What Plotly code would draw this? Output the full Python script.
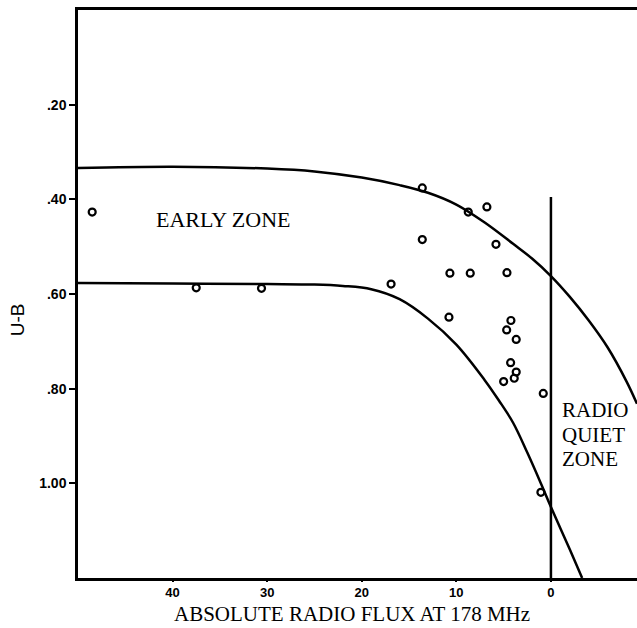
import plotly.graph_objects as go

# Observed objects: absolute radio flux at 178 MHz vs. U-B colour
flux = [48.5, 37.5, 30.6, 16.9, 13.6, 8.74, 6.77, 13.6, 5.81, 10.68, 8.53,
        4.65, 10.78, 4.23, 4.68, 3.67, 4.26, 3.67, 3.88, 5.0, 0.81, 1.06]
u_b = [0.427, 0.587, 0.588, 0.579, 0.376, 0.427, 0.416, 0.485, 0.495, 0.556,
       0.556, 0.555, 0.649, 0.656, 0.676, 0.696, 0.745, 0.765, 0.778, 0.785,
       0.81, 1.019]

# Upper boundary of the early zone
upper_flux = [50, 40, 30, 25, 20, 16, 13, 10, 7, 4, 2, 0, -2, -4, -6, -8, -9.1]
upper_ub = [0.334, 0.331, 0.335, 0.341, 0.354, 0.370, 0.386, 0.411, 0.449,
            0.494, 0.525, 0.562, 0.606, 0.656, 0.713, 0.785, 0.832]

# Lower boundary of the early zone
lower_flux = [50, 40, 30, 25, 22, 19, 16, 13, 10, 7, 5.5, 4, 2.5, 1, 0, -2, -3.3]
lower_ub = [0.577, 0.578, 0.579, 0.580, 0.583, 0.590, 0.611, 0.652, 0.707,
            0.782, 0.825, 0.872, 0.935, 1.003, 1.05, 1.14, 1.2]

# Radio-quiet limit
quiet_flux = [0, 0]
quiet_ub = [0.395, 1.2]

y_ticks = [0.2, 0.4, 0.6, 0.8, 1.0]
y_tick_text = [".20", ".40", ".60", ".80", "1.00"]
x_ticks = [40, 30, 20, 10, 0]

serif = "Liberation Serif, Times New Roman, serif"
sans = "Liberation Sans, Arial, sans-serif"

fig = go.Figure()
for xs, ys in [(upper_flux, upper_ub), (lower_flux, lower_ub)]:
    fig.add_trace(go.Scatter(x=xs, y=ys, mode="lines",
                             line=dict(color="black", width=2.5, shape="spline", smoothing=1.0),
                             hoverinfo="skip"))
fig.add_trace(go.Scatter(x=quiet_flux, y=quiet_ub, mode="lines",
                         line=dict(color="black", width=2.5), hoverinfo="skip"))
fig.add_trace(go.Scatter(x=flux, y=u_b, mode="markers",
                         marker=dict(symbol="circle-open", size=7, color="black",
                                     line=dict(width=2.2, color="black"))))

fig.add_annotation(x=34.7, y=0.443, text="EARLY ZONE", showarrow=False,
                   font=dict(family=serif, size=22, color="black"))
for i, word in enumerate(["RADIO", "QUIET", "ZONE"]):
    fig.add_annotation(x=-1.0, y=0.845 + i * 0.052, text=word, showarrow=False,
                       xanchor="left", font=dict(family=serif, size=21, color="black"))

fig.add_annotation(xref="paper", yref="paper", x=0.49, y=-0.0875, yanchor="bottom",
                   text="ABSOLUTE RADIO FLUX AT 178 MHz", showarrow=False,
                   font=dict(family=serif, size=21, color="black"))
fig.add_annotation(xref="paper", yref="paper", x=-0.108, xanchor="center", y=0.455,
                   text="U-B", textangle=-90, showarrow=False,
                   font=dict(family=sans, size=19, color="black"))

fig.update_layout(
    width=637, height=628,
    margin=dict(l=78, r=0, t=10, b=50),
    paper_bgcolor="white", plot_bgcolor="white",
    showlegend=False,
    xaxis=dict(range=[50, -9.1], tickvals=x_ticks, ticks="outside", ticklen=1,
               tickwidth=1.5, tickcolor="black", showline=True, linewidth=2.5,
               linecolor="black", mirror=True, showgrid=False, zeroline=False,
               tickfont=dict(family=sans, size=13, color="black", weight="bold")),
    yaxis=dict(range=[1.2, 0.0], tickvals=y_ticks, ticktext=y_tick_text,
               ticks="outside", ticklen=6, tickwidth=1.5, tickcolor="black",
               showline=True, linewidth=2.5, linecolor="black", mirror=False,
               showgrid=False, zeroline=False,
               tickfont=dict(family=sans, size=14, color="black", weight="bold")),
)

fig.write_html("out.html")
